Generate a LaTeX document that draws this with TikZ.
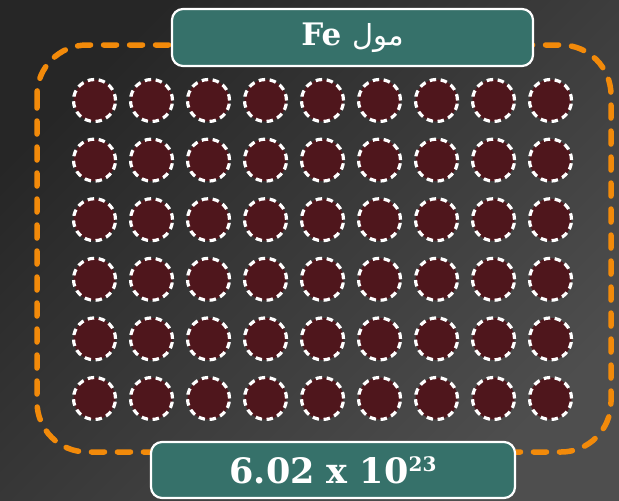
\documentclass[tikz,border=0pt]{standalone}
\usepackage{fontspec}
\setmainfont{DejaVu Serif}
\newfontfamily\arabicfont[Script=Arabic]{DejaVu Sans}
\TeXXeTstate=1
\definecolor{bgdark}{HTML}{262626}
\definecolor{bglight}{HTML}{4E4E4E}
\definecolor{atomred}{HTML}{4F161C}
\definecolor{tealbox}{HTML}{36716A}
\definecolor{orangeline}{HTML}{F28A0A}
\tikzset{
  atom/.style={circle, minimum size=42pt, inner sep=0pt, fill=atomred, draw=white, line width=3.2pt, dash pattern=on 6.5pt off 4.6pt},
  labelbox/.style={rounded corners=11pt, fill=tealbox, draw=white, line width=2.2pt, inner sep=0pt, text=white, font=\bfseries},
}
\begin{document}
\begin{tikzpicture}[x=1pt,y=-1pt]
\useasboundingbox (0,0) rectangle (619,501);
\shade[top color=bgdark, bottom color=bglight, shading angle=45] (0,0) rectangle (619,501);
% orange dashed frame
\draw[orangeline, line width=5.5pt, line cap=round, dash pattern=on 13pt off 13pt, rounded corners=50pt] (37,45) rectangle (611,452);
% atoms
\foreach \r in {0,...,5} {
  \foreach \c in {0,...,8} {
    \node[atom] (a\r\c) at ({94.5+57*\c},{100.5+59.6*\r}) {};
  }
}
% labels
\node[labelbox, minimum width=361pt, minimum height=57pt] (top) at (352.5,37.5) {};
\node[text=white, font=\bfseries\fontsize{31}{31}\selectfont, anchor=center] (toptext) at (top.center) {Fe {\arabicfont\mdseries\fontsize{29}{29}\selectfont\beginR مول\endR}};
\node[labelbox, minimum width=364pt, minimum height=56pt] (bot) at (333,470) {};
\node[text=white, font=\bfseries\fontsize{35}{35}\selectfont, anchor=center] (bottext) at (bot.center) {6.02 x 10{\fontsize{20}{20}\selectfont\raisebox{12pt}{23}}};
\end{tikzpicture}
\end{document}
